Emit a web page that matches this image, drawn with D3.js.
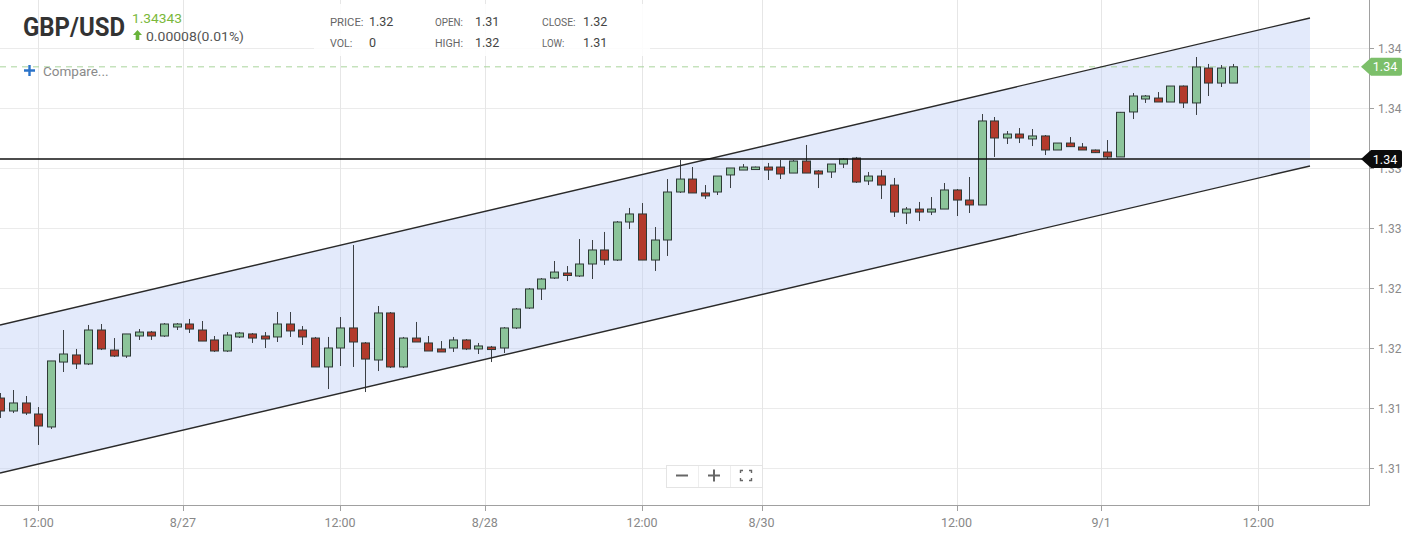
<!DOCTYPE html>
<html>
<head>
<meta charset="utf-8">
<script src="https://cdn.jsdelivr.net/npm/d3@7"></script>
<style>
  html, body { margin: 0; padding: 0; background: #fff; }
  svg { display: block; font-family: Roboto, "Noto Sans", sans-serif; }
</style>
</head>
<body>
<svg id="chart" width="1425" height="540"></svg>
<script>
// ---------- DATA ----------
const opens = [1.31583,1.31475,1.31542,1.3145,1.31342,1.31883,1.31942,1.31867,1.3215,1.31983,
1.31933,1.321,1.32133,1.321,1.32175,1.322,1.3215,1.32067,1.31975,1.32092,
1.32117,1.321,1.32092,1.322,1.3215,1.32083,1.31842,1.32,1.32167,1.32042,
1.319,1.32292,1.31842,1.32083,1.32042,1.31992,1.32,1.32067,1.31992,1.32008,
1.32,1.32167,1.32333,1.32492,1.32583,1.32625,1.326,1.327,1.32817,1.32733,
1.3305,1.33117,1.32733,1.329,1.333,1.33408,1.33292,1.333,1.33442,1.33483,
1.335,1.33508,1.33508,1.33458,1.33558,1.33475,1.33467,1.33533,1.33583,1.33392,
1.33433,1.33358,1.33125,1.33158,1.33133,1.33158,1.33317,1.33233,1.33192,1.33892,
1.3375,1.33783,1.33742,1.33767,1.3365,1.33708,1.33675,1.3365,1.33633,1.33592,
1.33967,1.34075,1.34083,1.3405,1.34183,1.34042,1.34333,1.34208,1.34208];
const highs = [1.31625,1.3165,1.316,1.31508,1.31892,1.3215,1.31992,1.32192,1.322,1.32083,
1.32117,1.32158,1.32142,1.32208,1.32208,1.32242,1.32225,1.321,1.32133,1.32133,
1.32125,1.32133,1.323,1.323,1.32183,1.32092,1.32092,1.32258,1.32858,1.3205,
1.3235,1.323,1.32092,1.32217,1.321,1.32058,1.32092,1.32075,1.32042,1.32017,
1.32175,1.32333,1.325,1.32583,1.32725,1.32683,1.32908,1.329,1.32967,1.33058,
1.33167,1.33208,1.33008,1.33408,1.33567,1.33508,1.33358,1.33433,1.335,1.33533,
1.33512,1.33542,1.33567,1.33567,1.33692,1.33483,1.33533,1.33583,1.33592,1.33467,
1.33483,1.33417,1.33175,1.33217,1.33258,1.33375,1.33325,1.33425,1.3395,1.33925,
1.33808,1.33833,1.33825,1.33775,1.33708,1.33758,1.33708,1.33654,1.33733,1.33967,
1.34125,1.34108,1.34133,1.34183,1.34188,1.34425,1.34367,1.34358,1.34367];
const lows = [1.31417,1.31458,1.31442,1.31192,1.31325,1.318,1.31825,1.31858,1.31983,1.31925,
1.31917,1.32067,1.32067,1.32092,1.3215,1.32125,1.32058,1.31967,1.31967,1.32083,
1.32042,1.32,1.3205,1.32092,1.32025,1.31842,1.31658,1.3185,1.31842,1.31633,
1.31808,1.31833,1.31833,1.3205,1.31975,1.31967,1.31967,1.31983,1.3195,1.31883,
1.31958,1.32158,1.32325,1.324,1.32575,1.32558,1.32592,1.32575,1.32692,1.32725,
1.32992,1.32733,1.32642,1.32767,1.33292,1.33292,1.33242,1.33275,1.33333,1.33483,
1.335,1.334,1.33408,1.33458,1.33458,1.33333,1.33417,1.335,1.33375,1.33358,
1.33242,1.33092,1.33033,1.33058,1.33108,1.33158,1.331,1.33125,1.33192,1.33592,
1.337,1.33708,1.33683,1.33608,1.3365,1.33675,1.3365,1.33625,1.33575,1.33592,
1.33908,1.34042,1.3405,1.3405,1.34,1.33942,1.341,1.34175,1.34208];
const closes = [1.31475,1.31542,1.31458,1.3135,1.31892,1.3195,1.31867,1.3215,1.31992,1.31933,
1.32117,1.32133,1.321,1.322,1.322,1.32158,1.32058,1.31975,1.32108,1.32125,
1.32083,1.32075,1.322,1.32142,1.32092,1.31842,1.32,1.32167,1.3205,1.31908,
1.32292,1.31842,1.32083,1.3205,1.31975,1.31967,1.32067,1.31992,1.32017,1.31992,
1.32167,1.32325,1.32492,1.32575,1.32633,1.32608,1.327,1.32817,1.32733,1.3305,
1.33117,1.32733,1.329,1.333,1.33408,1.33292,1.33267,1.33433,1.335,1.33508,
1.33508,1.33483,1.3345,1.33558,1.33458,1.3345,1.33533,1.33575,1.33383,1.33433,
1.33358,1.33133,1.33158,1.33133,1.33158,1.33317,1.33233,1.33192,1.33892,1.3375,
1.33783,1.3375,1.33767,1.3365,1.33708,1.33678,1.3365,1.33628,1.33592,1.33964,
1.341,1.341,1.3405,1.34183,1.34042,1.34342,1.34208,1.34333,1.34343];

// time-axis ticks (positions in candle index units) and labels
const xTickPos    = [3, 14.5, 27, 38.5, 51, 60.5, 76, 87.5, 100];
const xTickLabels = ["12:00", "8/27", "12:00", "8/28", "12:00", "8/30", "12:00", "9/1", "12:00"];
// price-axis ticks
const yTickValues = [1.31, 1.315, 1.32, 1.325, 1.33, 1.335, 1.34, 1.345];

// trend channel (index, price)
const channelUpper = [[-0.0334, 1.32192], [104.1, 1.3475]];
const channelLower = [[-0.0334, 1.30958], [104.1, 1.33517]];
// horizontal level line and last price
const levelPrice = 1.33575;
const lastPrice = 1.34343;

// header texts
const symbol = "GBP/USD";
const quoteText = "1.34343";
const changeText = "0.00008(0.01%)";
const ohlcRow1 = [["PRICE:", "1.32"], ["OPEN:", "1.31"], ["CLOSE:", "1.32"]];
const ohlcRow2 = [["VOL:", "0"], ["HIGH:", "1.32"], ["LOW:", "1.31"]];

// ---------- DRAW ----------
const svg = d3.select("#chart");
const W = 1425, H = 540;
const plotR = 1369, plotB = 505;

const x = d3.scaleLinear().domain([-0.0334, 108.79]).range([0, plotR]);
const y = d3.scaleLinear().domain([1.306917, 1.349]).range([plotB, 0]);
const fmt = d3.format(".2f");

const candles = opens.map((o, i) => ({ i, o, h: highs[i], l: lows[i], c: closes[i] }));

svg.append("defs").append("clipPath").attr("id", "plotclip")
  .append("rect").attr("x", 0).attr("y", 0).attr("width", plotR).attr("height", plotB);

// grid
const grid = svg.append("g");
grid.selectAll(".hg").data(yTickValues).join("line")
  .attr("x1", 0).attr("x2", plotR)
  .attr("y1", d => Math.round(y(d)) + 0.5).attr("y2", d => Math.round(y(d)) + 0.5)
  .attr("stroke", "#ebebeb").attr("stroke-width", 1);
grid.selectAll(".vg").data(xTickPos).join("line")
  .attr("y1", 0).attr("y2", plotB)
  .attr("x1", d => Math.round(x(d)) + 0.5).attr("x2", d => Math.round(x(d)) + 0.5)
  .attr("stroke", "#e6e6e6").attr("stroke-width", 1);

const plot = svg.append("g").attr("clip-path", "url(#plotclip)");

// channel fill
const poly = channelUpper.concat(channelLower.slice().reverse());
plot.append("path")
  .attr("d", d3.line().x(d => x(d[0])).y(d => y(d[1]))(poly) + "Z")
  .attr("fill", "rgba(186,203,245,0.40)");

// last price dashed line
plot.append("line")
  .attr("x1", 0).attr("x2", 1362)
  .attr("y1", y(lastPrice)).attr("y2", y(lastPrice))
  .attr("stroke", "#a9d49b").attr("stroke-width", 1).attr("stroke-dasharray", "6,5");

// candles
const bw = 8;
const cg = plot.append("g");
cg.selectAll(".wick").data(candles).join("line")
  .attr("x1", d => Math.round(x(d.i)) + 0.5).attr("x2", d => Math.round(x(d.i)) + 0.5)
  .attr("y1", d => y(d.h)).attr("y2", d => y(d.l))
  .attr("stroke", "#3b3f44").attr("stroke-width", 1);
cg.selectAll(".body").data(candles).join("rect")
  .attr("x", d => Math.round(x(d.i)) - bw / 2 + 0.5)
  .attr("width", bw)
  .attr("y", d => Math.min(y(d.o), y(d.c)))
  .attr("height", d => Math.max(2.5, Math.abs(y(d.o) - y(d.c))))
  .attr("fill", d => d.c >= d.o ? "#8cc49a" : "#b33a2c")
  .attr("stroke", "#2e3a36").attr("stroke-width", 1);

// channel lines
[channelUpper, channelLower].forEach(seg => {
  plot.append("line")
    .attr("x1", x(seg[0][0])).attr("y1", y(seg[0][1]))
    .attr("x2", x(seg[1][0])).attr("y2", y(seg[1][1]))
    .attr("stroke", "#2a2a2a").attr("stroke-width", 1.4);
});

// level line (drawn across to tag)
svg.append("line")
  .attr("x1", 0).attr("x2", 1364)
  .attr("y1", y(levelPrice)).attr("y2", y(levelPrice))
  .attr("stroke", "#111").attr("stroke-width", 1.3);

// axes
svg.append("line").attr("x1", plotR + 0.5).attr("x2", plotR + 0.5).attr("y1", 0).attr("y2", plotB)
  .attr("stroke", "#a0a0a0");
svg.append("line").attr("x1", 0).attr("x2", plotR + 1).attr("y1", plotB + 0.5).attr("y2", plotB + 0.5)
  .attr("stroke", "#a0a0a0");

const yAx = svg.append("g");
yAx.selectAll(".yt").data(yTickValues).join("line")
  .attr("x1", plotR).attr("x2", plotR + 5)
  .attr("y1", d => Math.round(y(d)) + 0.5).attr("y2", d => Math.round(y(d)) + 0.5)
  .attr("stroke", "#a0a0a0");
yAx.selectAll(".yl").data(yTickValues).join("text")
  .attr("x", plotR + 9).attr("y", d => y(d) + 4.5)
  .attr("font-size", 12).attr("fill", "#8a8a8a")
  .text(d => fmt(d));

const xAx = svg.append("g");
xAx.selectAll(".xt").data(xTickPos).join("line")
  .attr("x1", d => Math.round(x(d)) + 0.5).attr("x2", d => Math.round(x(d)) + 0.5)
  .attr("y1", plotB).attr("y2", plotB + 6)
  .attr("stroke", "#a0a0a0");
xAx.selectAll(".xl").data(xTickPos).join("text")
  .attr("x", d => x(d)).attr("y", 527)
  .attr("text-anchor", "middle")
  .attr("font-size", 12.5).attr("fill", "#888")
  .text((d, i) => xTickLabels[i]);

// price tags
function tag(price, fill) {
  const yy = y(price);
  const g = svg.append("g");
  g.append("path")
    .attr("d", `M1361,${yy} L1371,${yy - 9} L1400,${yy - 9} Q1402,${yy - 9} 1402,${yy - 7} L1402,${yy + 7} Q1402,${yy + 9} 1400,${yy + 9} L1371,${yy + 9} Z`)
    .attr("fill", fill);
  g.append("text").attr("x", 1385).attr("y", yy + 4.5).attr("text-anchor", "middle")
    .attr("font-size", 12.5).attr("fill", "#fff").text(fmt(price));
}
tag(lastPrice, "#7cbf6a");
tag(levelPrice, "#0c0c0c");

// zoom controls
const zc = svg.append("g");
zc.append("rect").attr("x", 666.5).attr("y", 465.5).attr("width", 96).attr("height", 22)
  .attr("fill", "#fff").attr("stroke", "#e4e4e4");
zc.append("line").attr("x1", 698.5).attr("x2", 698.5).attr("y1", 466).attr("y2", 487).attr("stroke", "#eee");
zc.append("line").attr("x1", 730.5).attr("x2", 730.5).attr("y1", 466).attr("y2", 487).attr("stroke", "#eee");
zc.append("line").attr("x1", 676).attr("x2", 688).attr("y1", 475.5).attr("y2", 475.5).attr("stroke", "#666").attr("stroke-width", 2);
zc.append("line").attr("x1", 708).attr("x2", 720).attr("y1", 475.5).attr("y2", 475.5).attr("stroke", "#666").attr("stroke-width", 2);
zc.append("line").attr("x1", 714).attr("x2", 714).attr("y1", 469.5).attr("y2", 481.5).attr("stroke", "#666").attr("stroke-width", 2);
zc.append("path")
  .attr("d", "M740.5,473 V470.5 H743 M749,470.5 H751.5 V473 M751.5,478 V480.5 H749 M743,480.5 H740.5 V478")
  .attr("fill", "none").attr("stroke", "#666").attr("stroke-width", 1.4);

// header
const hd = svg.append("g");
hd.append("text").attr("x", 23).attr("y", 36).attr("font-size", 25).attr("font-weight", 700)
  .attr("fill", "#333").attr("textLength", 102).attr("lengthAdjust", "spacingAndGlyphs").text(symbol);
hd.append("text").attr("x", 132).attr("y", 23).attr("font-size", 13).attr("fill", "#7ab83a")
  .attr("textLength", 50).attr("lengthAdjust", "spacingAndGlyphs").text(quoteText);
hd.append("path").attr("d", "M137.5,30 L142,35 H139.3 V40 H135.7 V35 H133 Z").attr("fill", "#68b33a");
hd.append("text").attr("x", 146).attr("y", 40.5).attr("font-size", 13.5).attr("fill", "#555")
  .attr("textLength", 98).attr("lengthAdjust", "spacingAndGlyphs").text(changeText);

hd.append("rect").attr("x", 314).attr("y", 4).attr("width", 336).attr("height", 52).attr("fill", "rgba(255,255,255,0.85)");
const colX = [330, 435, 542], valX = [369, 475, 583];
[ohlcRow1, ohlcRow2].forEach((row, r) => {
  row.forEach((p, k) => {
    hd.append("text").attr("x", colX[k]).attr("y", 26 + r * 21).attr("font-size", 11.5).attr("fill", "#666")
      .attr("textLength", p[0].length * 5.6).attr("lengthAdjust", "spacingAndGlyphs").text(p[0]);
    hd.append("text").attr("x", valX[k]).attr("y", 26 + r * 21).attr("font-size", 12.5).attr("fill", "#444")
      .text(p[1]);
  });
});

hd.append("path").attr("d", "M24,70.5 H35 M29.5,65 V76").attr("stroke", "#2b73c9").attr("stroke-width", 2.4);
hd.append("text").attr("x", 43).attr("y", 75.5).attr("font-size", 13.5).attr("fill", "#8a8a8a").text("Compare...");
</script>
</body>
</html>
